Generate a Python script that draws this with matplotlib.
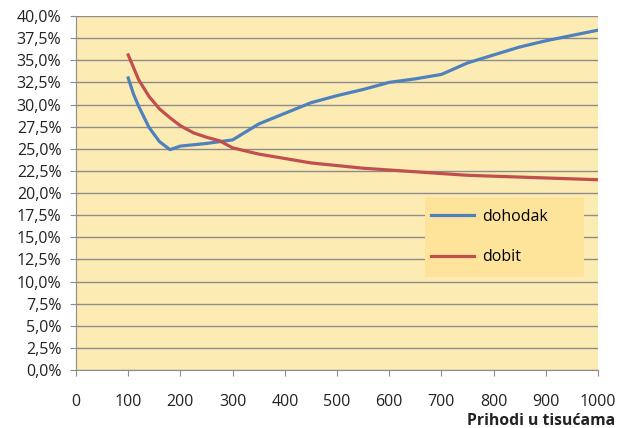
import matplotlib.pyplot as plt
from matplotlib.patches import Rectangle
from matplotlib.ticker import FuncFormatter

# income (thousands) and rates in %
x_dohodak = [100, 110, 120, 140, 160, 180, 200, 250, 300, 350, 400, 450, 500,
             550, 600, 650, 700, 750, 800, 850, 900, 950, 1000]
y_dohodak = [33.0, 31.2, 29.8, 27.4, 25.8, 24.9, 25.3, 25.6, 26.0, 27.8, 29.0,
             30.2, 31.0, 31.7, 32.5, 32.9, 33.4, 34.7, 35.6, 36.5, 37.2, 37.8,
             38.4]

x_dobit = [100, 120, 140, 160, 180, 200, 225, 250, 275, 300, 350, 400, 450,
           500, 550, 600, 650, 700, 750, 800, 850, 900, 950, 1000]
y_dobit = [35.6, 32.8, 30.9, 29.5, 28.5, 27.6, 26.8, 26.3, 25.9, 25.1, 24.4,
           23.9, 23.4, 23.1, 22.8, 22.6, 22.4, 22.2, 22.0, 21.9, 21.8, 21.7,
           21.6, 21.5]

x_ticks = list(range(0, 1001, 100))
y_ticks = [i * 2.5 for i in range(17)]

plt.rcParams['font.family'] = ['Open Sans', 'DejaVu Sans']

fig = plt.figure(figsize=(6.21, 4.28), dpi=100)
ax = fig.add_axes([0.1224, 0.1355, 0.8406, 0.8271])
ax.set_facecolor('#FCEBB3')

ax.plot(x_dohodak, y_dohodak, color='#4F81BD', lw=2.3, label='dohodak')
ax.plot(x_dobit, y_dobit, color='#C0504D', lw=2.3, label='dobit')

ax.set_xlim(0, 1000)
ax.set_ylim(0, 40)
ax.set_xticks(x_ticks)
ax.set_yticks(y_ticks)
ax.yaxis.set_major_formatter(FuncFormatter(lambda v, p: f'{v:.1f}%'.replace('.', ',')))
ax.grid(axis='y', color='#8C8C8C', lw=1)
ax.set_axisbelow(True)

for s in ['top', 'right']:
    ax.spines[s].set_visible(False)
for s in ['left', 'bottom']:
    ax.spines[s].set_color('#8C8C8C')

ax.tick_params(axis='y', length=4.5, color='#8C8C8C', labelsize=11.5, pad=6, labelcolor='#222222')
ax.tick_params(axis='x', length=4, color='#8C8C8C', labelsize=11.5, pad=13, labelcolor='#222222')

fig.text(0.991, 0.0164, 'Prihodi u tisućama', ha='right', va='center',
         fontsize=11.3, fontweight='bold', color='#222222')

# legend box
ax.add_patch(Rectangle((0.669, 0.264), 0.304, 0.226, transform=ax.transAxes,
                       facecolor='#FDE49A', edgecolor='none', zorder=2.5))
leg = ax.legend(loc='center left', bbox_to_anchor=(0.6795, 0.3755),
                frameon=False, fontsize=11.5, borderpad=0, borderaxespad=0,
                handlelength=2.7, handletextpad=0.5, labelspacing=1.55)
leg.set_zorder(3)

fig.savefig('out.png', dpi=100)
